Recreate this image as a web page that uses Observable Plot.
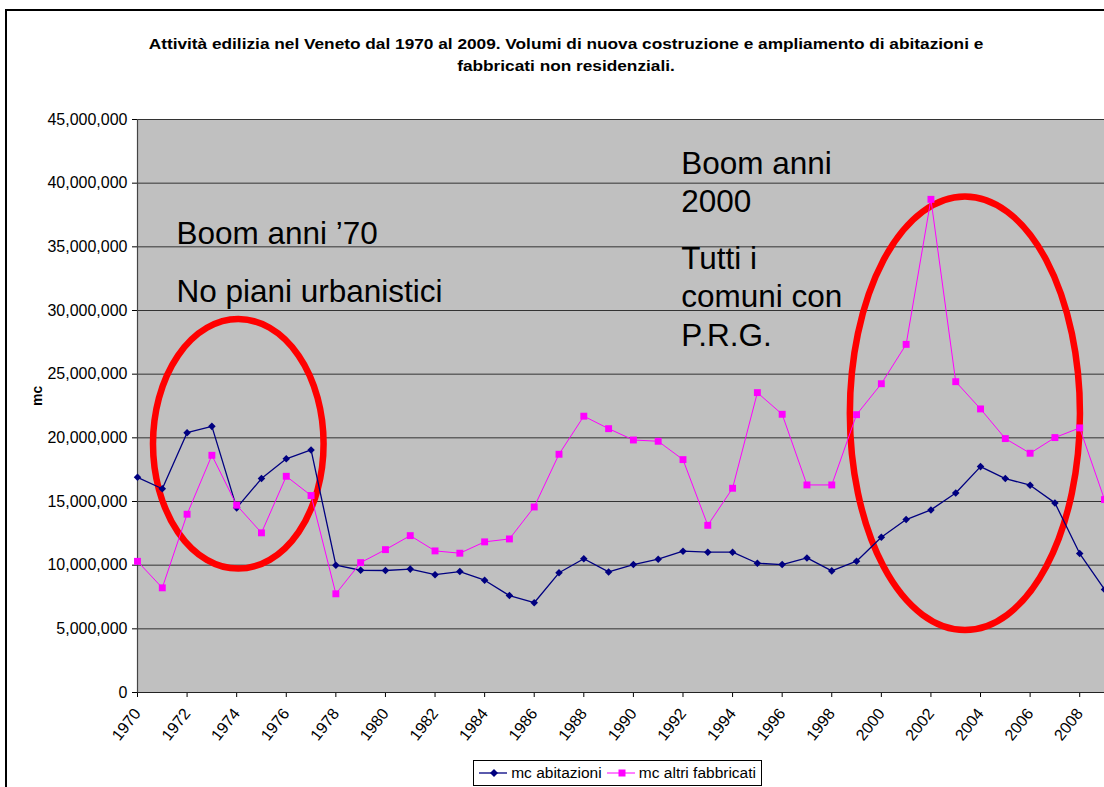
<!DOCTYPE html>
<html><head><meta charset="utf-8">
<script src="https://cdn.jsdelivr.net/npm/d3@7"></script>
<script src="https://cdn.jsdelivr.net/npm/@observablehq/plot@0.6"></script>
<style>
body{margin:0;background:#fff;font-family:"Liberation Sans",Arial,sans-serif;}
#wrap{position:relative;width:1104px;height:787px;overflow:hidden;}
#frame{position:absolute;left:5px;top:9px;width:1200px;height:900px;border-left:2px solid #000;border-top:2px solid #000;}
#title{position:absolute;left:0;width:1132px;top:33px;text-align:center;font-weight:bold;font-size:15px;line-height:22px;color:#000;transform:scaleX(1.15);transform-origin:566px 0;}
#chart{position:absolute;left:0;top:100px;}
#legend{position:absolute;left:473px;top:760px;width:289px;height:26px;border:1px solid #000;background:#fff;font-size:15.5px;display:flex;align-items:center;padding-left:5px;box-sizing:border-box;white-space:nowrap;}
#legend svg{margin-right:4px;}
#legend span{margin-right:5px;}
</style></head>
<body><div id="wrap">
<div id="frame"></div>
<div id="title">Attività edilizia nel Veneto dal 1970 al 2009. Volumi di nuova costruzione e ampliamento di abitazioni e<br>fabbricati non residenziali.</div>
<div id="chart"></div>
<div id="legend">
<svg width="30" height="12"><line x1="0" y1="6" x2="30" y2="6" stroke="#000080" stroke-width="1.3"/><path d="M15,2 L19,6 L15,10 L11,6Z" fill="#000080"/></svg><span>mc abitazioni</span>
<svg width="30" height="12"><line x1="0" y1="6" x2="30" y2="6" stroke="#ff00ff" stroke-width="1"/><rect x="11.5" y="2.5" width="7" height="7" fill="#ff00ff"/></svg><span>mc altri fabbricati</span>
</div>
</div>
<script>
const years = [1970,1971,1972,1973,1974,1975,1976,1977,1978,1979,1980,1981,1982,1983,1984,1985,1986,1987,1988,1989,1990,1991,1992,1993,1994,1995,1996,1997,1998,1999,2000,2001,2002,2003,2004,2005,2006,2007,2008,2009];
const mcAbitazioni = [16900000,16000000,20400000,20900000,14500000,16800000,18350000,19050000,10000000,9600000,9580000,9690000,9250000,9500000,8820000,7610000,7050000,9400000,10500000,9470000,10050000,10470000,11100000,11020000,11020000,10150000,10050000,10570000,9550000,10310000,12190000,13580000,14340000,15670000,17740000,16800000,16280000,14890000,10910000,8090000];
const mcAltriFabbricati = [10300000,8220000,14000000,18630000,14710000,12540000,16980000,15470000,7750000,10200000,11220000,12320000,11120000,10940000,11830000,12060000,14570000,18710000,21700000,20720000,19830000,19730000,18290000,13130000,16040000,23550000,21850000,16300000,16300000,21820000,24250000,27340000,38730000,24410000,22270000,19940000,18790000,20020000,20780000,15150000];
const xTicks = [1970,1972,1974,1976,1978,1980,1982,1984,1986,1988,1990,1992,1994,1996,1998,2000,2002,2004,2006,2008];
const yTicks = [0,5000000,10000000,15000000,20000000,25000000,30000000,35000000,40000000,45000000];
const noteLabels = ["Boom anni ’70","No piani urbanistici","Boom anni","2000","Tutti i","comuni con","P.R.G."];
const noteYears = [1971.57,1971.57,1991.93,1991.93,1991.93,1991.93,1991.93];
const noteValues = [35240000,30650000,40740000,37720000,33270000,30260000,27250000];
const ellipseCenterYears = [1974.085,2003.39];
const ellipseCenterValues = [19490000,21890000];
const ellipseRadiusYears = [3.44,4.64];
const ellipseRadiusValues = [9800000,17020000];

const table = years.map((year,i)=>({year, abit: mcAbitazioni[i], altri: mcAltriFabbricati[i]}));
const notes = noteLabels.map((label,i)=>({label, year: noteYears[i], value: noteValues[i]}));

function ellipses(index, scales) {
  const ns = "http://www.w3.org/2000/svg";
  const g = document.createElementNS(ns, "g");
  for (let i = 0; i < ellipseCenterYears.length; i++) {
    const cx = scales.x(ellipseCenterYears[i]);
    const cy = scales.y(ellipseCenterValues[i]);
    const rx = Math.abs(scales.x(ellipseCenterYears[i] + ellipseRadiusYears[i]) - cx);
    const ry = Math.abs(scales.y(ellipseCenterValues[i] + ellipseRadiusValues[i]) - cy);
    const e = document.createElementNS(ns, "ellipse");
    e.setAttribute("cx", cx); e.setAttribute("cy", cy);
    e.setAttribute("rx", rx); e.setAttribute("ry", ry);
    e.setAttribute("fill", "none"); e.setAttribute("stroke", "#ff0000");
    e.setAttribute("stroke-width", 6.5);
    g.appendChild(e);
  }
  return g;
}

const chart = Plot.plot({
  width: 1104, height: 652,
  marginLeft: 137, marginRight: 0, marginTop: 19, marginBottom: 60,
  style: {fontFamily: "Liberation Sans, Arial, sans-serif", fontSize: "16px", background: "transparent", overflow: "visible", color: "#000"},
  x: {type: "linear", domain: [1970, 2009], ticks: xTicks, tickFormat: d => String(d), tickRotate: -52, tickSize: 5, tickPadding: 13, label: null},
  y: {domain: [0, 45000000], ticks: yTicks, tickFormat: d3.format(","), tickSize: 5, tickPadding: 5, label: null},
  marks: [
    Plot.frame({fill: "#c0c0c0", stroke: "none"}),
    Plot.ruleY(yTicks, {stroke: "#333", strokeWidth: 1}),
    Plot.ruleX([1970], {stroke: "#444", strokeWidth: 1.2}),
    Plot.ruleY([0], {stroke: "#222", strokeWidth: 1.2}),
    ellipses,
    Plot.line(table, {x: "year", y: "abit", stroke: "#000080", strokeWidth: 1.3}),
    Plot.dot(table, {x: "year", y: "abit", symbol: "diamond2", r: 3.4, fill: "#000080", stroke: "none"}),
    Plot.line(table, {x: "year", y: "altri", stroke: "#ff00ff", strokeWidth: 1}),
    Plot.dot(table, {x: "year", y: "altri", symbol: "square", r: 3.9, fill: "#ff00ff", stroke: "none"}),
    Plot.text(notes, {x: "year", y: "value", text: "label", textAnchor: "start", lineAnchor: "bottom", fontSize: 31.5, fill: "#000"}),
    Plot.text(["mc"], {frameAnchor: "left", dx: -100, rotate: -90, fontWeight: "bold", fontSize: 14, fill: "#000"})
  ]
});
document.getElementById("chart").appendChild(chart);
</script>
</body></html>
